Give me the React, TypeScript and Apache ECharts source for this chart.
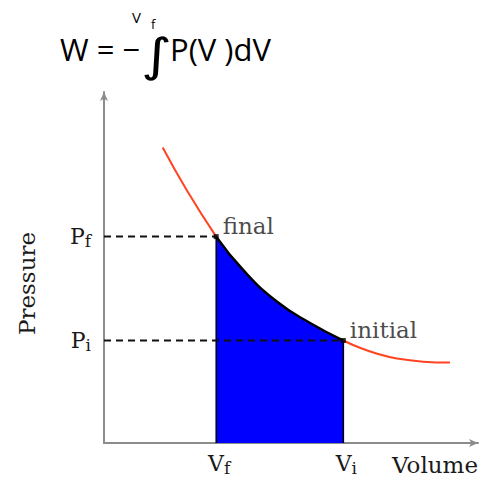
import React, { useEffect, useRef } from 'react';
import * as echarts from 'echarts';

// Isotherm sampled along the P–V curve (arbitrary units)
const curveVolume = [1.57, 2.21, 3.0, 3.72, 4.62, 5.51, 6.4, 7.83, 9.25];
const curvePressure = [8.42, 7.21, 5.88, 4.93, 4.03, 3.42, 2.92, 2.41, 2.29];

// End states of the compression
const stateNames = ['final', 'initial'];
const stateVolume = [3.0, 6.4];
const statePressure = [5.88, 2.92];

// Axis tick labels: [main letter, subscript]
const volumeTickLabels = [['V', 'f'], ['V', 'i']];
const pressureTickLabels = [['P', 'f'], ['P', 'i']];

const axisMax = 10;

const SERIF = 'DejaVu Serif';
const SANS = 'Open Sans';
const INK = '#1a1a1a';
const AXIS_GREY = '#8c8c8c';

const subRich = {
  m: { fontFamily: SERIF, fontSize: 22, color: INK, lineHeight: 26 },
  s: { fontFamily: SERIF, fontSize: 17, color: INK, lineHeight: 14, verticalAlign: 'bottom' },
};

function tickFormatter(values: number[], labels: string[][]) {
  return (v: number) => {
    const k = values.findIndex((x) => Math.abs(x - v) < 1e-9);
    if (k < 0) return '';
    return `{m|${labels[k][0]}}{s|${labels[k][1]}}`;
  };
}

export default function App() {
  const ref = useRef<HTMLDivElement>(null);

  useEffect(() => {
    if (!ref.current) return;
    const chart = echarts.init(ref.current, null, { renderer: 'svg' });

    const points = curveVolume.map((v, i) => [v, curvePressure[i]]);
    const iFinal = curveVolume.indexOf(stateVolume[0]);
    const iInitial = curveVolume.indexOf(stateVolume[1]);
    const before = points.slice(0, iFinal + 1);
    const work = points.slice(iFinal, iInitial + 1);
    const after = points.slice(iInitial);

    const lineOnly = {
      type: 'line',
      smooth: true,
      symbol: 'none',
      silent: true,
    };

    chart.setOption({
      animation: false,
      grid: { left: 104, right: 3, top: 92, bottom: 41, outerBoundsMode: 'none' },
      xAxis: {
        type: 'value',
        min: 0,
        max: axisMax,
        name: 'Volume',
        nameLocation: 'end',
        nameGap: 0,
        nameTextStyle: {
          fontFamily: SERIF,
          fontSize: 23,
          color: INK,
          align: 'right',
          verticalAlign: 'top',
          padding: [10, 0, 0, 0],
        },
        axisLine: {
          lineStyle: { color: AXIS_GREY, width: 2 },
          symbol: ['none', 'arrow'],
          symbolSize: [6, 9],
        },
        axisTick: { show: false },
        splitLine: { show: false },
        axisLabel: {
          customValues: stateVolume,
          formatter: tickFormatter(stateVolume, volumeTickLabels),
          margin: 7,
          padding: [0, 0, 0, 6],
          rich: subRich,
        },
      },
      yAxis: {
        type: 'value',
        min: 0,
        max: axisMax,
        name: 'Pressure',
        nameLocation: 'middle',
        nameRotate: 90,
        nameGap: 66,
        nameTextStyle: {
          fontFamily: SERIF,
          fontSize: 23,
          color: INK,
          padding: [0, 32, 0, 0],
        },
        axisLine: {
          lineStyle: { color: AXIS_GREY, width: 2 },
          symbol: ['none', 'arrow'],
          symbolSize: [6, 9],
        },
        axisTick: { show: false },
        splitLine: { show: false },
        axisLabel: {
          customValues: statePressure,
          formatter: tickFormatter(statePressure, pressureTickLabels),
          margin: 13,
          rich: subRich,
        },
      },
      series: [
        // work done: area under the curve between the two states
        {
          ...lineOnly,
          data: work,
          lineStyle: { color: '#000', width: 2.5 },
          areaStyle: { color: '#0000ff', opacity: 1 },
          z: 2,
        },
        {
          ...lineOnly,
          smooth: false,
          data: [[stateVolume[0], 0], [stateVolume[0], statePressure[0]]],
          lineStyle: { color: '#000', width: 1.5 },
          z: 3,
        },
        {
          ...lineOnly,
          smooth: false,
          data: [[stateVolume[1], 0], [stateVolume[1], statePressure[1]]],
          lineStyle: { color: '#000', width: 1.5 },
          z: 3,
        },
        // dashed guides to the pressure axis
        ...stateVolume.map((v, k) => ({
          ...lineOnly,
          smooth: false,
          data: [[0, statePressure[k]], [v, statePressure[k]]],
          lineStyle: { color: '#111', width: 2, type: [7, 5] },
          z: 4,
        })),
        // remaining parts of the isotherm
        {
          ...lineOnly,
          data: before,
          lineStyle: { color: '#ff4422', width: 2 },
          z: 4,
        },
        {
          ...lineOnly,
          data: after,
          lineStyle: { color: '#ff4422', width: 2 },
          z: 4,
        },
        {
          type: 'scatter',
          symbol: 'rect',
          symbolSize: 5,
          itemStyle: { color: '#000' },
          data: stateVolume.map((v, k) => ({
            value: [v, statePressure[k]],
            name: stateNames[k],
          })),
          label: {
            show: true,
            position: 'right',
            distance: 4,
            offset: [0, -11],
            formatter: (p: any) => p.name,
            fontFamily: SERIF,
            fontSize: 23,
            color: INK,
          },
          z: 5,
        },
      ],
      graphic: [
        {
          type: 'text',
          left: 60,
          top: 33,
          style: { text: 'W = −', fontFamily: SANS, fontSize: 31, fill: '#000' },
        },
        {
          type: 'text',
          x: 141,
          y: 38,
          scaleX: 1.3,
          style: { text: '∫', fontFamily: 'DejaVu Sans', fontSize: 46, lineHeight: 34, fill: '#000' },
        },
        {
          type: 'text',
          left: 170,
          top: 33,
          style: { text: 'P(V )dV', fontFamily: SANS, fontSize: 31, fill: '#000' },
        },
        {
          type: 'text',
          left: 132,
          top: 9,
          style: { text: 'V', fontFamily: SANS, fontSize: 15, fill: '#000' },
        },
        {
          type: 'text',
          left: 151,
          top: 17,
          style: { text: 'f', fontFamily: SANS, fontSize: 13, fill: '#000' },
        },
      ],
    });

    return () => chart.dispose();
  }, []);

  return (
    <div
      ref={ref}
      style={{ position: 'fixed', left: 0, top: 0, width: 481, height: 484, background: '#fff' }}
    />
  );
}
